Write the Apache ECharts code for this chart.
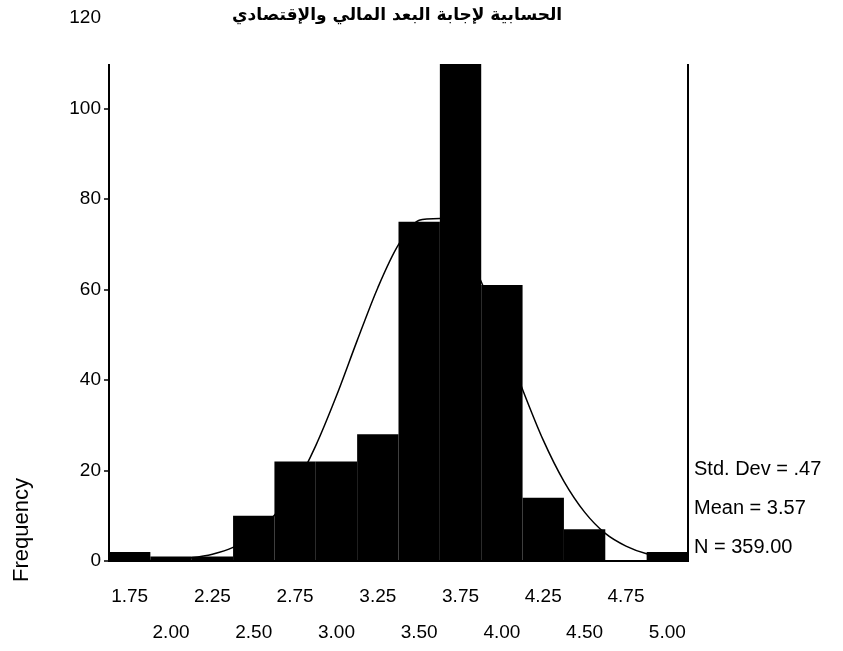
<!DOCTYPE html>
<html>
<head>
<meta charset="utf-8">
<script src="https://cdn.jsdelivr.net/npm/echarts@6/dist/echarts.min.js"></script>
<style>html,body{margin:0;padding:0;background:#fff;}#chart{width:843px;height:651px;}</style>
</head>
<body>
<div id="chart"></div>
<script>
// ---- data ----
const categories = ['1.75','2.00','2.25','2.50','2.75','3.00','3.25','3.50','3.75','4.00','4.25','4.50','4.75','5.00'];
const frequencies = [2, 1, 1, 10, 22, 22, 28, 75, 114, 61, 14, 7, 0, 2];
const curveX = [1.625,1.75,1.875,2.0,2.125,2.25,2.375,2.5,2.625,2.75,2.875,3.0,3.125,3.25,3.375,3.5,3.625,3.75,3.875,4.0,4.125,4.25,4.375,4.5,4.625,4.75,4.875,5.0,5.125];
const curveY = [0,0,0.1,0.3,0.7,1.5,3.0,5.7,10.1,16.6,25.5,36.5,48.7,60.4,69.9,75.3,75.7,70.8,61.7,50.1,37.9,26.7,17.6,10.8,6.1,3.3,1.6,0.7,0.3];
const yTicks = [0, 20, 40, 60, 80, 100, 120];
const titleText = 'الحسابية لإجابة البعد المالي والإقتصادي';
const yName = 'Frequency';
const statLines = ['Std. Dev = .47', 'Mean = 3.57', 'N = 359.00'];

const chart = echarts.init(document.getElementById('chart'), null, {renderer: 'canvas'});
const font = 'Liberation Sans';
const option = {
  animation: false,
  backgroundColor: '#fff',
  grid: {left: 109, right: 155, top: 18, bottom: 86, show: true, borderColor: '#000', borderWidth: 2, backgroundColor: 'transparent'},
  xAxis: [{
    type: 'category',
    data: categories,
    boundaryGap: true,
    axisLine: {lineStyle: {color: '#000', width: 2}},
    axisTick: {alignWithLabel: true, length: 5, lineStyle: {color: '#000', width: 1.5}},
    axisLabel: {
      interval: 0, color: '#000', fontFamily: font, fontSize: 19, margin: 18,
      lineHeight: 36, verticalAlign: 'top',
      formatter: (v, i) => (i % 2 === 0 ? v : '\n' + v)
    },
    splitLine: {show: false}
  }, {
    type: 'value', min: 1.625, max: 5.125, show: false
  }],
  yAxis: {
    type: 'value', min: yTicks[0], max: yTicks[yTicks.length - 1], interval: 20,
    axisLine: {show: true, lineStyle: {color: '#000', width: 2}},
    axisTick: {show: true, length: 5, lineStyle: {color: '#000', width: 1.5}},
    axisLabel: {color: '#000', fontFamily: font, fontSize: 19, margin: 8},
    splitLine: {show: false}
  },
  series: [{
    type: 'bar',
    data: frequencies,
    barCategoryGap: '0%',
    itemStyle: {color: '#000'},
    xAxisIndex: 0
  }, {
    type: 'line',
    xAxisIndex: 1,
    data: curveX.map((x, i) => [x, curveY[i]]),
    smooth: 0.3,
    symbol: 'none',
    lineStyle: {color: '#000', width: 1.5},
    z: 3
  }],
  graphic: [
    {type: 'rect', shape: {x: 102, y: 0, width: 741, height: 64}, style: {fill: '#fff'}, z: 100},
    {type: 'text', left: 232, top: 7, z: 101,
     style: {text: titleText, font: 'bold 17px "DejaVu Sans"', fill: '#000', width: 340, align: 'center'}},
    {type: 'text', x: 22, y: 530, rotation: Math.PI / 2, z: 101,
     style: {text: yName, font: '22px "Liberation Sans"', fill: '#000', align: 'center', verticalAlign: 'middle'}},
    {type: 'text', x: 694, y: 450, z: 101,
     style: {text: statLines.join('\n'), font: '20px "Liberation Sans"', fill: '#000', lineHeight: 39, verticalAlign: 'top'}}
  ]
};
chart.setOption(option);
</script>
</body>
</html>
